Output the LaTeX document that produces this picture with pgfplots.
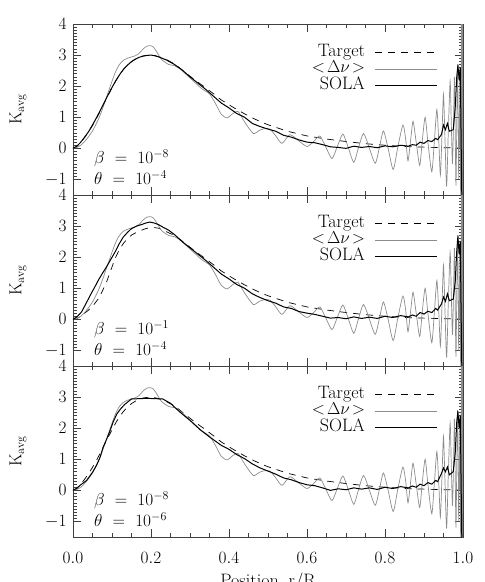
\documentclass[border=0pt]{standalone}
\usepackage{pgfplots}
\usepackage{pgfplotstable}
\pgfplotsset{compat=1.18}

\newcommand{\lf}{\fontsize{16}{16}\selectfont}
\newcommand{\gf}{\fontsize{18}{17}\selectfont}

% target kernel (panels 1 and 3)
\pgfplotstableread{
r K
0 0
0.01 0.07
0.02 0.2
0.03 0.36
0.04 0.54
0.05 0.74
0.06 0.96
0.07 1.2
0.08 1.45
0.09 1.7
0.1 1.95
0.11 2.18
0.12 2.38
0.13 2.55
0.14 2.68
0.15 2.79
0.16 2.87
0.17 2.93
0.18 2.97
0.19 2.99
0.2 3.0
0.21 2.98
0.22 2.95
0.24 2.85
0.26 2.72
0.28 2.52
0.3 2.32
0.32 2.13
0.34 1.95
0.36 1.76
0.38 1.56
0.4 1.4
0.42 1.25
0.44 1.11
0.46 0.98
0.48 0.86
0.5 0.76
0.55 0.55
0.6 0.4
0.65 0.3
0.7 0.22
0.75 0.15
0.8 0.1
0.85 0.06
0.9 0.04
0.95 0.02
1.0 0.01
}\targetA

% target kernel (panel 2)
\pgfplotstableread{
r K
0 0
0.01 0.03
0.02 0.1
0.03 0.2
0.04 0.3
0.05 0.42
0.065 0.66
0.075 0.9
0.086 1.2
0.097 1.58
0.108 1.96
0.118 2.22
0.129 2.44
0.14 2.6
0.15 2.71
0.163 2.8
0.176 2.87
0.187 2.92
0.197 2.95
0.21 2.95
0.22 2.93
0.236 2.84
0.26 2.7
0.28 2.52
0.3 2.32
0.32 2.13
0.34 1.95
0.36 1.76
0.38 1.56
0.4 1.4
0.42 1.25
0.44 1.11
0.46 0.98
0.48 0.86
0.5 0.76
0.55 0.55
0.6 0.4
0.65 0.3
0.7 0.22
0.75 0.15
0.8 0.1
0.85 0.06
0.9 0.04
0.95 0.02
1.0 0.01
}\targetB

% <Delta nu> kernel, same in every panel
\pgfplotstableread{
r K
0 0
0.01 0.03
0.02 0.1
0.03 0.22
0.04 0.38
0.05 0.56
0.065 0.93
0.075 1.25
0.086 1.65
0.097 2.05
0.108 2.43
0.118 2.68
0.129 2.83
0.14 2.9
0.15 2.94
0.16 2.98
0.17 3.06
0.18 3.2
0.19 3.29
0.2 3.3
0.206 3.26
0.215 3.1
0.227 2.86
0.245 2.7
0.26 2.66
0.275 2.55
0.29 2.38
0.31 2.15
0.33 1.92
0.35 1.75
0.365 1.45
0.38 1.1
0.395 0.98
0.41 1.12
0.423 1.19
0.44 0.85
0.462 0.48
0.478 0.58
0.49 0.63
0.505 0.62
0.52 0.4
0.536 0.16
0.556 0.44
0.578 0.25
0.6 0.06
0.617 0.22
0.633 0.4
0.648 0.05
0.664 -0.33
0.678 0.07
0.692 0.46
0.706 0.02
0.72 -0.45
0.732 0.02
0.745 0.48
0.76 0.0
0.775 -0.48
0.786 0.05
0.796 0.56
0.808 0.0
0.821 -0.68
0.833 0.05
0.846 0.75
0.853 0.3
0.859 -0.4
0.866 0.3
0.872 0.87
0.88 0.2
0.889 -0.55
0.896 0.3
0.903 1.0
0.91 0.2
0.92 -0.75
0.927 0.3
0.933 1.25
0.938 0.2
0.942 -0.86
0.946 0.4
0.95 1.74
0.954 0.2
0.958 -1.23
0.962 0.4
0.967 2.16
0.97 0.8
0.973 -0.5
0.976 1.0
0.978 2.3
0.98 0.5
0.982 -1.2
0.984 0.7
0.986 2.58
0.988 0.6
0.989 -1.0
0.991 1.0
0.992 2.2
0.993 0.5
0.994 -1.5
0.995 0.3
0.996 5
0.997 -3
0.998 5
0.999 -3
1.0 5
}\dnu

% SOLA, beta=1e-8 theta=1e-4
\pgfplotstableread{
r K
0 0
0.01 0.07
0.02 0.2
0.03 0.36
0.04 0.54
0.05 0.75
0.06 0.98
0.07 1.22
0.08 1.47
0.09 1.72
0.1 1.96
0.11 2.18
0.12 2.38
0.13 2.55
0.14 2.68
0.15 2.79
0.16 2.87
0.17 2.93
0.18 2.97
0.19 2.99
0.2 3.0
0.21 2.98
0.22 2.94
0.24 2.84
0.26 2.7
0.28 2.52
0.3 2.3
0.32 2.1
0.34 1.9
0.36 1.68
0.38 1.46
0.4 1.3
0.42 1.12
0.44 1.0
0.46 0.8
0.48 0.7
0.5 0.62
0.52 0.55
0.54 0.42
0.56 0.36
0.58 0.27
0.6 0.2
0.62 0.18
0.64 0.12
0.66 0.05
0.68 0.03
0.7 0.0
0.72 0.07
0.74 0.03
0.76 0.06
0.78 0.02
0.8 0.08
0.82 0.05
0.84 0.1
0.86 0.07
0.87 0.12
0.88 0.1
0.89 0.2
0.9 0.16
0.91 0.25
0.92 0.22
0.93 0.32
0.935 0.28
0.945 0.45
0.95 0.75
0.955 0.6
0.96 0.8
0.965 0.55
0.975 0.6
0.98 1.3
0.984 2.3
0.987 2.7
0.99 2.2
0.993 2.6
0.995 0.5
0.997 -1.6
1.0 -1.6
}\solaA

% SOLA, beta=1e-1 theta=1e-4
\pgfplotstableread{
r K
0 0
0.01 0.08
0.022 0.24
0.033 0.5
0.044 0.77
0.055 1.02
0.065 1.26
0.075 1.47
0.086 1.69
0.097 1.93
0.108 2.17
0.118 2.42
0.129 2.65
0.14 2.8
0.15 2.92
0.163 3.0
0.176 3.05
0.187 3.1
0.197 3.13
0.208 3.1
0.219 3.05
0.23 2.97
0.245 2.87
0.26 2.73
0.28 2.5
0.3 2.3
0.32 2.1
0.34 1.9
0.36 1.68
0.38 1.46
0.4 1.3
0.42 1.12
0.44 1.0
0.46 0.82
0.48 0.7
0.5 0.6
0.52 0.52
0.54 0.4
0.56 0.35
0.58 0.25
0.6 0.2
0.62 0.16
0.64 0.1
0.66 0.04
0.68 0.06
0.7 0.02
0.72 0.08
0.74 0.03
0.76 0.07
0.78 0.03
0.8 0.1
0.82 0.06
0.84 0.12
0.86 0.08
0.87 0.14
0.88 0.1
0.89 0.22
0.9 0.17
0.91 0.26
0.92 0.22
0.93 0.35
0.935 0.3
0.945 0.5
0.95 0.72
0.955 0.58
0.96 0.82
0.965 0.6
0.975 0.65
0.98 1.2
0.984 2.2
0.987 2.7
0.99 2.1
0.993 2.5
0.995 0.4
0.997 -1.6
1.0 -1.6
}\solaB

% SOLA, beta=1e-8 theta=1e-6
\pgfplotstableread{
r K
0 0
0.01 0.07
0.02 0.18
0.035 0.32
0.05 0.58
0.06 0.8
0.069 1.05
0.077 1.38
0.086 1.64
0.095 1.92
0.103 2.2
0.112 2.45
0.122 2.62
0.133 2.77
0.15 2.94
0.17 2.95
0.19 2.96
0.21 2.95
0.23 2.94
0.25 2.8
0.274 2.52
0.3 2.25
0.326 1.95
0.35 1.72
0.38 1.45
0.4 1.32
0.42 1.15
0.44 1.02
0.46 0.85
0.48 0.72
0.5 0.62
0.52 0.52
0.54 0.4
0.56 0.34
0.58 0.25
0.6 0.18
0.62 0.15
0.64 0.08
0.66 0.0
0.68 0.05
0.7 0.02
0.72 0.08
0.74 0.04
0.76 0.08
0.78 0.03
0.8 0.1
0.82 0.06
0.84 0.12
0.86 0.08
0.87 0.14
0.88 0.1
0.89 0.2
0.9 0.15
0.91 0.25
0.92 0.2
0.93 0.32
0.935 0.28
0.945 0.55
0.95 0.72
0.955 0.6
0.96 0.75
0.965 0.5
0.975 0.6
0.98 1.2
0.984 2.2
0.987 2.55
0.99 2.0
0.993 2.4
0.995 0.4
0.997 -1.6
1.0 -1.6
}\solaC

\pgfplotsset{
  kpanel/.style={
    scale only axis, width=390pt, height=171pt,
    xmin=0, xmax=1, ymin=-1.5, ymax=4,
    xtick={0,0.2,0.4,0.6,0.8,1.0}, minor x tick num=3,
    ytick={-1,0,1,2,3,4}, minor y tick num=9,
    yticklabels={$-1$,$0$,$1$,$2$,$3$,\raisebox{-4pt}{$4$}},
    tick align=inside, tick pos=both,
    major tick length=8pt, minor tick length=4pt,
    axis line style={black!75, line width=0.8pt},
    every tick/.style={black!75, line width=0.6pt},
    tick label style={font=\lf},
    yticklabel style={xshift=-3pt},
    xticklabel style={yshift=-12pt, /pgf/number format/.cd, fixed, fixed zerofill, precision=1},
    ylabel={$\mathrm{K}_{\mathrm{avg}}$},
    ylabel style={font=\fontsize{18}{18}\selectfont, at={(axis description cs:-0.141,0.5)}, anchor=center},
    legend plot pos=right,
    legend cell align=right,
    legend image code/.code={\path[draw=none, fill=none] (0pt,0pt) -- (72pt,0pt);
      \draw[##1] (10pt,0pt) -- (72pt,0pt);},
    legend style={at={(rel axis cs:0.935,0.88)}, anchor=north east,
      draw=none, fill=none, font=\gf, row sep=1pt, inner sep=0pt,
      nodes={inner sep=0pt, text height=11.5pt, text depth=4pt}},
  },
  tgt/.style={black, line width=0.7pt, dash pattern=on 7pt off 6pt},
  dnu/.style={black!45, line width=0.7pt},
  sola/.style={black, line width=1.0pt},
}

\begin{document}
\begin{tikzpicture}
\useasboundingbox (-73pt,-45pt) rectangle (412pt,537pt);

% top panel
\begin{axis}[kpanel, at={(0pt,342pt)}, anchor=south west, xticklabels={}]
\addplot[tgt] table[x=r, y=K] {\targetA};
\addlegendentry{Target}
\addplot[dnu, smooth, tension=0.4] table[x=r, y=K] {\dnu};
\addlegendentry{$<\!\Delta\nu\!>$}
\addplot[sola] table[x=r, y=K] {\solaA};
\addlegendentry{SOLA}
\node[anchor=west, font=\gf] at (axis cs:0.045,-0.33) {$\beta\ =\ 10^{-8}$};
\node[anchor=west, font=\gf] at (axis cs:0.045,-0.95) {$\theta\ =\ 10^{-4}$};
\end{axis}

% middle panel
\begin{axis}[kpanel, at={(0pt,171pt)}, anchor=south west, xticklabels={}]
\addplot[tgt] table[x=r, y=K] {\targetB};
\addlegendentry{Target}
\addplot[dnu, smooth, tension=0.4] table[x=r, y=K] {\dnu};
\addlegendentry{$<\!\Delta\nu\!>$}
\addplot[sola] table[x=r, y=K] {\solaB};
\addlegendentry{SOLA}
\node[anchor=west, font=\gf] at (axis cs:0.045,-0.33) {$\beta\ =\ 10^{-1}$};
\node[anchor=west, font=\gf] at (axis cs:0.045,-0.95) {$\theta\ =\ 10^{-4}$};
\end{axis}

% bottom panel
\begin{axis}[kpanel, at={(0pt,0pt)}, anchor=south west,
  xlabel={Position, r/R}, xlabel style={font=\gf, yshift=-2pt}]
\addplot[tgt] table[x=r, y=K] {\targetA};
\addlegendentry{Target}
\addplot[dnu, smooth, tension=0.4] table[x=r, y=K] {\dnu};
\addlegendentry{$<\!\Delta\nu\!>$}
\addplot[sola] table[x=r, y=K] {\solaC};
\addlegendentry{SOLA}
\node[anchor=west, font=\gf] at (axis cs:0.045,-0.33) {$\beta\ =\ 10^{-8}$};
\node[anchor=west, font=\gf] at (axis cs:0.045,-0.95) {$\theta\ =\ 10^{-6}$};
\end{axis}
\end{tikzpicture}
\end{document}
